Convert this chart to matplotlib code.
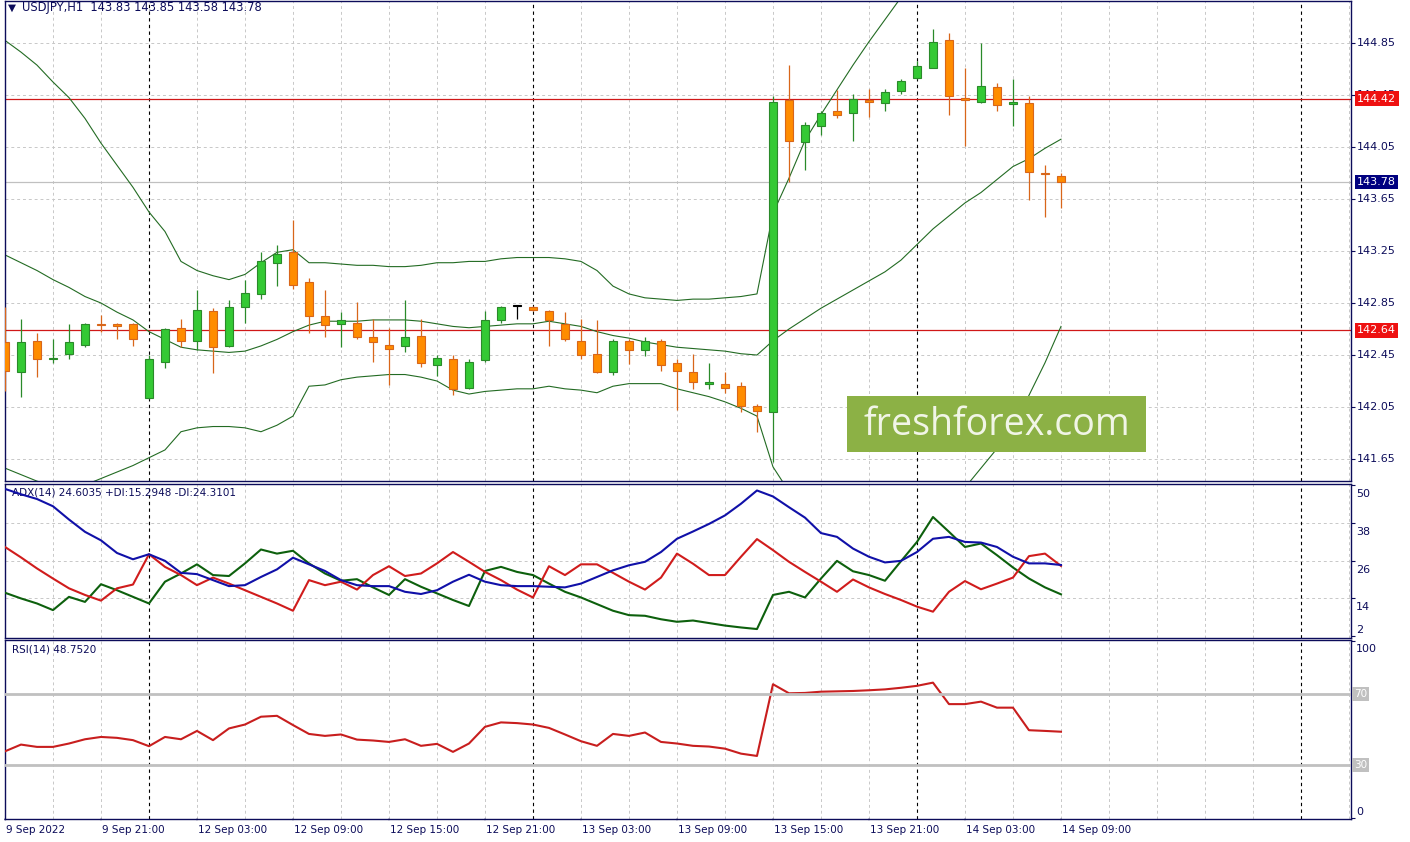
import numpy as np
import matplotlib
matplotlib.use("Agg")
import matplotlib.pyplot as plt
from matplotlib.patches import Rectangle

# USDJPY H1, one value per bar (bar 0 = 9 Sep 15:00)
opens = [142.55, 142.32, 142.56, 142.42, 142.46, 142.53, 142.69, 142.69, 142.69, 142.12,
         142.40, 142.66, 142.56, 142.79, 142.52, 142.82, 142.92, 143.16, 143.24, 143.01,
         142.75, 142.69, 142.70, 142.59, 142.53, 142.52, 142.60, 142.37, 142.42, 142.20,
         142.41, 142.72, 142.83, 142.82, 142.79, 142.69, 142.56, 142.46, 142.32, 142.56,
         142.49, 142.56, 142.39, 142.32, 142.23, 142.23, 142.21, 142.06, 142.01, 144.41,
         144.09, 144.21, 144.33, 144.31, 144.41, 144.39, 144.48, 144.58, 144.66, 144.87,
         144.43, 144.40, 144.51, 144.38, 144.39, 143.85, 143.83]
highs = [142.82, 142.73, 142.62, 142.57, 142.69, 142.70, 142.76, 142.70, 142.70, 142.45,
         142.66, 142.73, 142.95, 142.81, 142.87, 143.03, 143.24, 143.30, 143.49, 143.04,
         142.95, 142.78, 142.86, 142.73, 142.66, 142.87, 142.73, 142.45, 142.45, 142.42,
         142.79, 142.83, 142.83, 142.83, 142.80, 142.78, 142.73, 142.72, 142.57, 142.57,
         142.59, 142.57, 142.42, 142.46, 142.39, 142.32, 142.24, 142.07, 144.44, 144.68,
         144.24, 144.33, 144.49, 144.46, 144.50, 144.50, 144.57, 144.71, 144.96, 144.93,
         144.66, 144.85, 144.54, 144.57, 144.44, 143.91, 143.85]
lows = [142.17, 142.13, 142.28, 142.39, 142.42, 142.51, 142.63, 142.57, 142.52, 142.11,
        142.35, 142.51, 142.49, 142.31, 142.51, 142.70, 142.88, 142.98, 142.96, 142.62,
        142.59, 142.51, 142.57, 142.40, 142.22, 142.47, 142.36, 142.29, 142.14, 142.19,
        142.40, 142.70, 142.73, 142.79, 142.52, 142.56, 142.42, 142.31, 142.30, 142.38,
        142.44, 142.33, 142.03, 142.19, 142.19, 142.16, 142.01, 141.86, 141.63, 143.78,
        143.87, 144.14, 144.27, 144.10, 144.28, 144.33, 144.46, 144.57, 144.66, 144.30,
        144.06, 144.39, 144.33, 144.21, 143.64, 143.51, 143.58]
closes = [142.33, 142.55, 142.42, 142.43, 142.55, 142.69, 142.68, 142.67, 142.57, 142.42,
          142.65, 142.56, 142.80, 142.51, 142.82, 142.93, 143.17, 143.23, 142.99, 142.75,
          142.68, 142.72, 142.59, 142.55, 142.50, 142.59, 142.39, 142.43, 142.19, 142.40,
          142.72, 142.82, 142.83, 142.80, 142.72, 142.57, 142.45, 142.32, 142.56, 142.49,
          142.56, 142.37, 142.33, 142.24, 142.24, 142.20, 142.06, 142.02, 144.40, 144.10,
          144.22, 144.31, 144.30, 144.42, 144.40, 144.47, 144.56, 144.67, 144.86, 144.44,
          144.41, 144.52, 144.37, 144.40, 143.86, 143.84, 143.78]

# Bollinger bands (20, 2)
bb_upper = [144.87, 144.78, 144.68, 144.55, 144.43, 144.27, 144.08, 143.91, 143.74, 143.55,
            143.40, 143.17, 143.10, 143.06, 143.03, 143.07, 143.16, 143.24, 143.26, 143.16,
            143.16, 143.15, 143.14, 143.14, 143.13, 143.13, 143.14, 143.16, 143.16, 143.17,
            143.17, 143.19, 143.20, 143.20, 143.20, 143.19, 143.17, 143.10, 142.98, 142.92,
            142.89, 142.88, 142.87, 142.88, 142.88, 142.89, 142.90, 142.92, 143.54, 143.81,
            144.10, 144.30, 144.49, 144.68, 144.86, 145.03, 145.20, 145.35, 145.49, 145.57,
            145.60, 145.63, 145.63, 145.60, 145.55, 145.47, 145.37]
bb_mid = [143.22, 143.16, 143.10, 143.03, 142.97, 142.90, 142.85, 142.78, 142.72, 142.63,
          142.57, 142.51, 142.49, 142.48, 142.47, 142.48, 142.52, 142.57, 142.63, 142.68,
          142.71, 142.71, 142.71, 142.72, 142.72, 142.72, 142.71, 142.69, 142.67, 142.66,
          142.67, 142.68, 142.69, 142.69, 142.71, 142.69, 142.67, 142.63, 142.60, 142.58,
          142.55, 142.53, 142.51, 142.50, 142.49, 142.48, 142.46, 142.45, 142.56, 142.65,
          142.73, 142.81, 142.88, 142.95, 143.02, 143.09, 143.18, 143.30, 143.42, 143.52,
          143.62, 143.70, 143.80, 143.90, 143.96, 144.04, 144.11]
bb_lower = [141.58, 141.53, 141.48, 141.44, 141.43, 141.45, 141.50, 141.55, 141.60, 141.66,
            141.72, 141.86, 141.89, 141.90, 141.90, 141.89, 141.86, 141.91, 141.98, 142.21,
            142.22, 142.26, 142.28, 142.29, 142.30, 142.30, 142.28, 142.25, 142.18, 142.15,
            142.17, 142.18, 142.19, 142.19, 142.21, 142.19, 142.18, 142.16, 142.21, 142.23,
            142.23, 142.23, 142.19, 142.16, 142.13, 142.09, 142.04, 141.98, 141.59, 141.40,
            141.22, 141.07, 140.93, 140.83, 140.76, 140.73, 140.76, 140.83, 140.97, 141.18,
            141.43, 141.58, 141.73, 141.91, 142.14, 142.39, 142.67]

adx = [48.7, 47.0, 45.5, 43.2, 39.0, 35.1, 32.4, 28.4, 26.4, 28.0,
       25.9, 22.1, 21.7, 19.8, 17.9, 18.2, 20.8, 23.2, 26.9, 24.8,
       22.7, 19.8, 18.2, 17.9, 17.9, 16.1, 15.4, 16.6, 19.3, 21.5,
       19.3, 18.2, 17.9, 17.9, 17.7, 17.5, 18.7, 20.8, 22.9, 24.5,
       25.6, 28.7, 32.9, 35.2, 37.6, 40.3, 44.0, 48.2, 46.3, 42.9,
       39.6, 34.7, 33.5, 29.8, 27.2, 25.4, 25.9, 28.7, 32.9, 33.5,
       31.9, 31.7, 30.3, 27.2, 25.1, 25.1, 24.6]
plus_di = [15.8, 14.0, 12.4, 10.3, 14.5, 12.9, 18.5, 16.6, 14.5, 12.4,
           19.3, 21.9, 24.8, 21.4, 21.1, 25.1, 29.5, 28.2, 29.1, 25.1,
           21.9, 19.6, 20.1, 17.5, 15.1, 20.1, 17.7, 15.6, 13.5, 11.6,
           22.7, 24.0, 22.4, 21.4, 18.7, 16.1, 14.3, 12.2, 10.1, 8.7,
           8.5, 7.4, 6.6, 7.0, 6.2, 5.4, 4.8, 4.3, 15.1, 16.1,
           14.3, 20.3, 25.9, 22.6, 21.4, 19.6, 25.8, 31.9, 39.8, 35.1,
           30.3, 31.4, 27.7, 23.8, 20.3, 17.5, 15.3]
minus_di = [30.3, 27.0, 23.5, 20.3, 17.2, 15.1, 13.3, 17.2, 18.4, 28.0,
            24.0, 21.4, 18.2, 20.6, 18.7, 16.6, 14.5, 12.4, 10.1, 19.8,
            18.2, 19.3, 16.8, 21.4, 24.2, 21.1, 21.9, 25.1, 28.7, 25.6,
            22.4, 19.8, 16.8, 14.3, 24.2, 21.4, 24.8, 24.8, 22.1, 19.3,
            16.8, 20.6, 28.2, 25.0, 21.4, 21.4, 27.2, 32.8, 29.3, 25.6,
            22.4, 19.3, 16.1, 20.0, 17.5, 15.4, 13.5, 11.4, 9.8, 16.1,
            19.5, 16.9, 18.7, 20.6, 27.4, 28.2, 24.3]
rsi = [37.7, 41.5, 40.2, 40.2, 42.1, 44.5, 45.8, 45.3, 44.0, 40.6,
       45.8, 44.5, 49.2, 44.0, 50.6, 52.8, 57.2, 57.7, 52.5, 47.5,
       46.4, 47.2, 44.3, 43.8, 43.0, 44.5, 40.8, 41.9, 37.4, 42.1,
       51.5, 54.0, 53.6, 52.8, 50.9, 47.2, 43.4, 40.8, 47.5, 46.4,
       48.3, 43.0, 42.1, 40.8, 40.4, 39.2, 36.4, 35.1, 75.5, 70.4,
       70.6, 71.3, 71.5, 71.7, 72.1, 72.6, 73.5, 74.6, 76.4, 64.3,
       64.3, 65.7, 62.3, 62.3, 49.6, 49.2, 48.75]

x_label_bars = [0, 6, 12, 18, 24, 30, 36, 42, 48, 54, 60, 66]
x_labels = ["9 Sep 2022", "9 Sep 21:00", "12 Sep 03:00", "12 Sep 09:00", "12 Sep 15:00",
            "12 Sep 21:00", "13 Sep 03:00", "13 Sep 09:00", "13 Sep 15:00", "13 Sep 21:00",
            "14 Sep 03:00", "14 Sep 09:00"]
day_starts = [9, 33, 57, 81]
price_ticks = [144.85, 144.45, 144.05, 143.65, 143.25, 142.85, 142.45, 142.05, 141.65]
adx_ticks = [50, 38, 26, 14, 2]
levels = [144.42, 142.64]
last_price = 143.78

W, H = 1410, 842
NAVY = "#0c0c5a"
GRID = "#c8c8c8"


def rect(x0, y0, x1, y1):
    return [x0 / W, 1 - y1 / H, (x1 - x0) / W, (y1 - y0) / H]


fig = plt.figure(figsize=(W / 100, H / 100), dpi=100)
fig.patch.set_facecolor("white")

ax_p = fig.add_axes(rect(4.5, 0.5, 1351, 481))
ax_a = fig.add_axes(rect(4.5, 483.5, 1351, 637.5))
ax_r = fig.add_axes(rect(4.5, 639.5, 1351, 819))

n = len(opens)
xs = np.arange(n)
xmax = (1351 - 4.5) / 16.0

for ax in (ax_p, ax_a, ax_r):
    ax.set_xlim(-0.03, xmax - 0.03)
    for s in ax.spines.values():
        s.set_color(NAVY)
        s.set_linewidth(1.0)
    ax.set_xticks([])
    ax.yaxis.tick_right()
    ax.tick_params(axis="y", length=3, width=0.8, color=NAVY, labelright=False, labelleft=False)
    for gx in range(0, int(xmax) + 1, 3):
        if gx in day_starts:
            continue
        ax.axvline(gx, color=GRID, lw=0.7, ls=(0, (3, 3)), zorder=0)
    for d in day_starts:
        ax.axvline(d, color="black", lw=0.8, ls=(0, (3, 3)), zorder=1)

# ---- price panel
ax_p.set_ylim(141.481, 145.177)
ax_p.set_yticks(price_ticks)
for t in price_ticks:
    ax_p.axhline(t, color=GRID, lw=0.7, ls=(0, (3, 3)), zorder=0)
    ax_p.annotate(f"{t:.2f}", xy=(1, t), xycoords=("axes fraction", "data"),
                  xytext=(6, 0), textcoords="offset pixels", va="center", ha="left",
                  fontsize=8, color=NAVY, annotation_clip=False)

ax_p.plot(xs, bb_upper, color="#236b23", lw=0.8, zorder=2)
ax_p.plot(xs, bb_mid, color="#236b23", lw=0.8, zorder=2)
ax_p.plot(xs, bb_lower, color="#236b23", lw=0.8, zorder=2)

for lv in levels:
    ax_p.axhline(lv, color="#d01818", lw=0.9, zorder=1.5)
    ax_p.annotate(f"{lv:.2f}", xy=(1, lv), xycoords=("axes fraction", "data"),
                  xytext=(6, 0), textcoords="offset pixels", va="center", ha="left",
                  fontsize=8, color="white", annotation_clip=False, zorder=10,
                  bbox=dict(boxstyle="square,pad=0.22", fc="#ee1111", ec="none"))
ax_p.axhline(last_price, color="#c0c0c0", lw=0.9, zorder=1)
ax_p.annotate(f"{last_price:.2f}", xy=(1, last_price), xycoords=("axes fraction", "data"),
              xytext=(6, 0), textcoords="offset pixels", va="center", ha="left",
              fontsize=8, color="white", annotation_clip=False, zorder=10,
              bbox=dict(boxstyle="square,pad=0.18", fc="#000080", ec="none"))

bw = 0.56
for i in range(n):
    o, h, l, c = opens[i], highs[i], lows[i], closes[i]
    if c > o:
        fill, edge = "#34c934", "#2a8a2a"
    elif c < o:
        fill, edge = "#ff8c00", "#d8661a"
    else:
        fill, edge = "black", "black"
    ax_p.vlines(i, l, h, color=edge, lw=0.9, zorder=3)
    bottom = min(o, c)
    height = max(abs(c - o), 0.003)
    ax_p.add_patch(Rectangle((i - bw / 2, bottom), bw, height, facecolor=fill,
                             edgecolor=edge, lw=0.8, zorder=4))

fig.text(8 / W, 1 - 8 / H, "\u25bc", fontsize=7.5, color=NAVY, va="center", ha="left")
fig.text(22 / W, 1 - 7 / H, "USDJPY,H1  143.83 143.85 143.58 143.78", fontsize=8.3,
         color=NAVY, va="center", ha="left")

# ---- ADX panel
ax_a.set_ylim(1.62, 50.41)
ax_a.set_yticks(adx_ticks)
for t in adx_ticks[1:-1]:
    ax_a.axhline(t, color=GRID, lw=0.7, ls=(0, (3, 3)), zorder=0)
for t in adx_ticks:
    ax_a.annotate(str(t), xy=(1, t), xycoords=("axes fraction", "data"),
                  xytext=(5, -9 if t != 2 else 6), textcoords="offset pixels",
                  va="center", ha="left", fontsize=8, color=NAVY, annotation_clip=False)
ax_a.plot(xs, plus_di, color="#0d600d", lw=1.5, zorder=3)
ax_a.plot(xs, minus_di, color="#d01c1c", lw=1.5, zorder=3)
ax_a.plot(xs, adx, color="#1010a8", lw=1.5, zorder=4)
ax_a.text(8 / 1346.5, 1 - 9 / 154, "ADX(14) 24.6035 +DI:15.2948 -DI:24.3101",
          transform=ax_a.transAxes, fontsize=7.5, color=NAVY, va="center", ha="left")

# ---- RSI panel
ax_r.set_ylim(-0.42, 100.7)
ax_r.set_yticks([100, 70, 30, 0])
ax_r.plot(xs, rsi, color="#c81e1e", lw=1.5, zorder=3)
for lv in (70, 30):
    ax_r.axhline(lv, color="#c0c0c0", lw=2.0, zorder=5)
    ax_r.annotate(str(lv), xy=(1, lv), xycoords=("axes fraction", "data"),
                  xytext=(3, 0), textcoords="offset pixels", va="center", ha="left",
                  fontsize=7.5, color="white", annotation_clip=False, zorder=10,
                  bbox=dict(boxstyle="square,pad=0.15", fc="#c0c0c0", ec="none"))
ax_r.annotate("100", xy=(1, 100), xycoords=("axes fraction", "data"),
              xytext=(5, -8), textcoords="offset pixels", va="center", ha="left",
              fontsize=8, color=NAVY, annotation_clip=False)
ax_r.annotate("0", xy=(1, 0), xycoords=("axes fraction", "data"),
              xytext=(5, 6), textcoords="offset pixels", va="center", ha="left",
              fontsize=8, color=NAVY, annotation_clip=False)
ax_r.text(8 / 1346.5, 1 - 10 / 179.5, "RSI(14) 48.7520", transform=ax_r.transAxes,
          fontsize=7.5, color=NAVY, va="center", ha="left")

# time axis labels
for b, lab in zip(x_label_bars, x_labels):
    ax_r.annotate(lab, xy=(b, 0), xycoords=("data", "axes fraction"),
                  xytext=(1, -11), textcoords="offset pixels", va="center", ha="left",
                  fontsize=7.5, color=NAVY, annotation_clip=False)
    ax_r.annotate("", xy=(b, 0), xycoords=("data", "axes fraction"),
                  xytext=(b, -0.02), textcoords=("data", "axes fraction"),
                  arrowprops=dict(arrowstyle="-", color=NAVY, lw=0.8), annotation_clip=False)

# watermark
fig.add_artist(Rectangle((847 / W, 1 - 452 / H), 299 / W, 56 / H, transform=fig.transFigure,
                         facecolor="#8cb145", edgecolor="none", zorder=20))
fig.text(997 / W, 1 - 425 / H, "freshforex.com", fontsize=27, family="Open Sans",
         color="#f1f5e6", ha="center", va="center", zorder=21)

fig.savefig("out.png", dpi=100, facecolor="white")
